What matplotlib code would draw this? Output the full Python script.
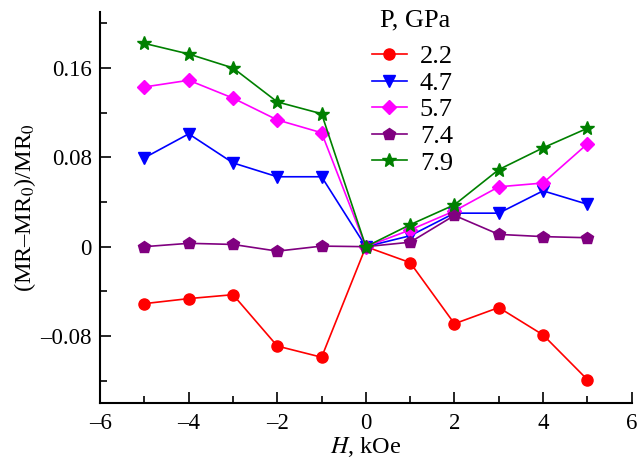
import matplotlib
matplotlib.use("Agg")
import matplotlib.pyplot as plt
from matplotlib.ticker import MultipleLocator, FuncFormatter

plt.rcParams["font.family"] = ["Liberation Serif", "DejaVu Serif"]
plt.rcParams["mathtext.fontset"] = "stix"

# magnetic field, kOe
H = [-5, -4, -3, -2, -1, 0, 1, 2, 3, 4, 5]
pressures = ["2.2", "4.7", "5.7", "7.4", "7.9"]

mr_22 = [-0.051, -0.0465, -0.043, -0.089, -0.099, 0.0, -0.0143, -0.069, -0.0545, -0.079, -0.119]
mr_47 = [0.0796, 0.101, 0.075, 0.0626, 0.0626, 0.0, 0.0098, 0.030, 0.030, 0.050, 0.038]
mr_57 = [0.143, 0.149, 0.133, 0.1135, 0.102, 0.0, 0.015, 0.032, 0.0536, 0.057, 0.092]
mr_74 = [0.0, 0.003, 0.002, -0.004, 0.0005, 0.0, 0.004, 0.028, 0.011, 0.009, 0.008]
mr_79 = [0.182, 0.1725, 0.160, 0.1296, 0.119, 0.0, 0.0197, 0.0375, 0.069, 0.0885, 0.106]

series = [mr_22, mr_47, mr_57, mr_74, mr_79]
colors = ["red", "blue", "magenta", "purple", "green"]
markers = ["o", "v", "D", "p", "*"]
msizes = [8, 9, 7.5, 9, 10]

fig = plt.figure(figsize=(6.38, 4.67), dpi=100)
ax = fig.add_axes([0.157, 0.137, 0.833, 0.837])

for y, c, m, ms, lab in zip(series, colors, markers, msizes, pressures):
    ax.plot(H, y, color=c, marker=m, ms=ms, lw=1.2, label=lab,
            markeredgecolor=c)

ax.set_xlim(-6, 6)
ax.set_ylim(-0.14, 0.21)
ax.xaxis.set_major_locator(MultipleLocator(2))
ax.xaxis.set_minor_locator(MultipleLocator(1))
ax.yaxis.set_major_locator(MultipleLocator(0.08))
ax.yaxis.set_minor_locator(MultipleLocator(0.04))
ax.yaxis.set_major_formatter(FuncFormatter(lambda v, p: "0" if abs(v) < 1e-9 else f"{v:.2f}".replace("-", "\u2013")))
ax.xaxis.set_major_formatter(FuncFormatter(lambda v, p: f"{v:.0f}".replace("-", "\u2013")))
ax.tick_params(which="both", direction="in", labelsize=16.5, width=1.2)
ax.tick_params(which="major", length=8)
ax.tick_params(which="minor", length=5)
ax.tick_params(axis="x", which="both", pad=7)
ax.tick_params(axis="y", which="both", pad=6)
for s in ["top", "right"]:
    ax.spines[s].set_visible(False)
for s in ["left", "bottom"]:
    ax.spines[s].set_linewidth(1.5)

ax.set_xlabel(r"$H$, kOe", fontsize=17.5, labelpad=1)
ax.set_ylabel("(MR\u2013MR$_0$)/MR$_0$", fontsize=17.5, labelpad=2)

# legend title drawn separately so the gap to the entries can be set
fig.text(0.596, 0.957, "P, GPa", fontsize=19, ha="left", va="center")
leg = ax.legend(loc="upper left", bbox_to_anchor=(0.567, 0.927),
                bbox_transform=fig.transFigure,
                frameon=False, fontsize=19,
                handlelength=1.3, labelspacing=0.12, handletextpad=0.5,
                borderaxespad=0.0)

fig.savefig("out.png", dpi=100)
